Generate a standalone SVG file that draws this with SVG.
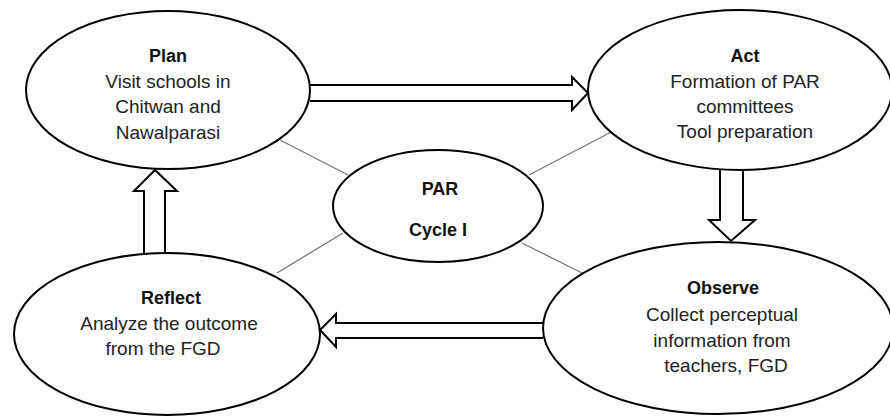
<svg xmlns="http://www.w3.org/2000/svg" width="890" height="417" viewBox="0 0 890 417">
<style>
.node{fill:#fff;stroke:#000;stroke-width:2}
.link{stroke:#777;stroke-width:1.3;fill:none}
.arrow{fill:#fff;stroke:#000;stroke-width:2;stroke-linejoin:miter}
text{font-family:"Liberation Sans",Arial,sans-serif;font-size:19px;fill:#222;text-anchor:middle}
.t{font-weight:bold;fill:#111;font-size:18px}
</style>
<rect width="890" height="417" fill="#fff"/>
<g id="connectors">
<line class="link" x1="280" y1="140" x2="348" y2="175"/>
<line class="link" x1="529" y1="175" x2="615" y2="130"/>
<line class="link" x1="343" y1="233" x2="277" y2="273"/>
<line class="link" x1="522" y1="243" x2="582" y2="273"/>
<path class="arrow" d="M310,85 L572,85 L572,77 L588,93 L572,110 L572,101 L310,101"/>
<path class="arrow" d="M720,170 L720,220 L709,220 L731,241 L755,220 L743,220 L743,170"/>
<path class="arrow" d="M543,323 L336,323 L336,314 L320,330 L336,347 L336,338 L543,338"/>
<path class="arrow" d="M144,253 L144,191 L134,191 L155,170 L177,191 L165,191 L165,253"/>
</g>
<g id="plan">
<ellipse class="node" cx="168" cy="90" rx="142" ry="79"/>
<text x="168" y="62" class="t">Plan</text>
<text x="168" y="87.5">Visit schools in</text>
<text x="168" y="113">Chitwan and</text>
<text x="168" y="138.5">Nawalparasi</text>
</g>
<g id="act">
<ellipse class="node" cx="740" cy="90" rx="152" ry="80"/>
<text x="745" y="62" class="t">Act</text>
<text x="745" y="87.5">Formation of PAR</text>
<text x="745" y="113">committees</text>
<text x="745" y="138">Tool preparation</text>
</g>
<g id="par">
<ellipse class="node" cx="438" cy="206" rx="105" ry="56"/>
<text x="440" y="195" class="t">PAR</text>
<text x="438" y="236" class="t">Cycle I</text>
</g>
<g id="reflect">
<ellipse class="node" cx="167" cy="334" rx="153" ry="81"/>
<text x="171" y="304" class="t">Reflect</text>
<text x="169" y="330">Analyze the outcome</text>
<text x="163" y="355">from the FGD</text>
</g>
<g id="observe">
<ellipse class="node" cx="718" cy="328" rx="175" ry="86"/>
<text x="723" y="294" class="t">Observe</text>
<text x="722" y="321">Collect perceptual</text>
<text x="722" y="347">information from</text>
<text x="726" y="372">teachers, FGD</text>
</g>
</svg>
